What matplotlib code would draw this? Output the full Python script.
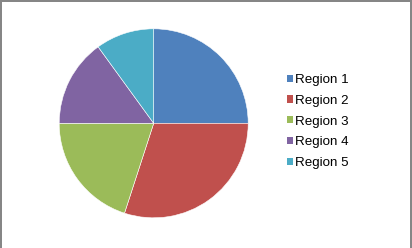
import matplotlib
matplotlib.use("Agg")
import matplotlib.pyplot as plt
from matplotlib.lines import Line2D
from matplotlib.patches import Rectangle

labels = ["Region 1", "Region 2", "Region 3", "Region 4", "Region 5"]
values = [25, 30, 20, 15, 10]
colors = ["#4F81BD", "#C0504D", "#9BBB59", "#8064A2", "#4BACC6"]

W, H = 412, 248
fig = plt.figure(figsize=(W / 100, H / 100), dpi=100)
fig.patch.set_facecolor("white")

# pie axes: centre ~ (153.7, 123.3) px, radius ~94.5 px
cx, cy, r = 153.7, 123.3, 94.5
ax = fig.add_axes([(cx - r) / W, (H - cy - r) / H, 2 * r / W, 2 * r / H])
ax.pie(values, colors=colors, startangle=90, counterclock=False,
       wedgeprops=dict(edgecolor="white", linewidth=0.4))
ax.set_xlim(-1, 1)
ax.set_ylim(-1, 1)
ax.set_aspect("auto")
ax.axis("off")

handles = [Rectangle((0, 0), 1, 1, facecolor=c, edgecolor="none") for c in colors]
fig.legend(handles, labels, loc="center left", bbox_to_anchor=(287 / W, 1 - 121.5 / H),
           frameon=False, borderpad=0, borderaxespad=0,
           handlelength=0.46, handleheight=0.46, handletextpad=0.15,
           labelspacing=0.66, prop=dict(family="Liberation Sans", size=9.6))

# grey frame (top, left, right)
lw = 1.44
border = "#868686"
fig.add_artist(Line2D([0, 1], [1 - 1 / H, 1 - 1 / H], transform=fig.transFigure, color=border, lw=lw))
fig.add_artist(Line2D([1 / W, 1 / W], [0, 1], transform=fig.transFigure, color=border, lw=lw))
fig.add_artist(Line2D([1 - 1.5 / W, 1 - 1.5 / W], [0, 1], transform=fig.transFigure, color=border, lw=lw))

fig.savefig("out.png", dpi=100, facecolor="white")
